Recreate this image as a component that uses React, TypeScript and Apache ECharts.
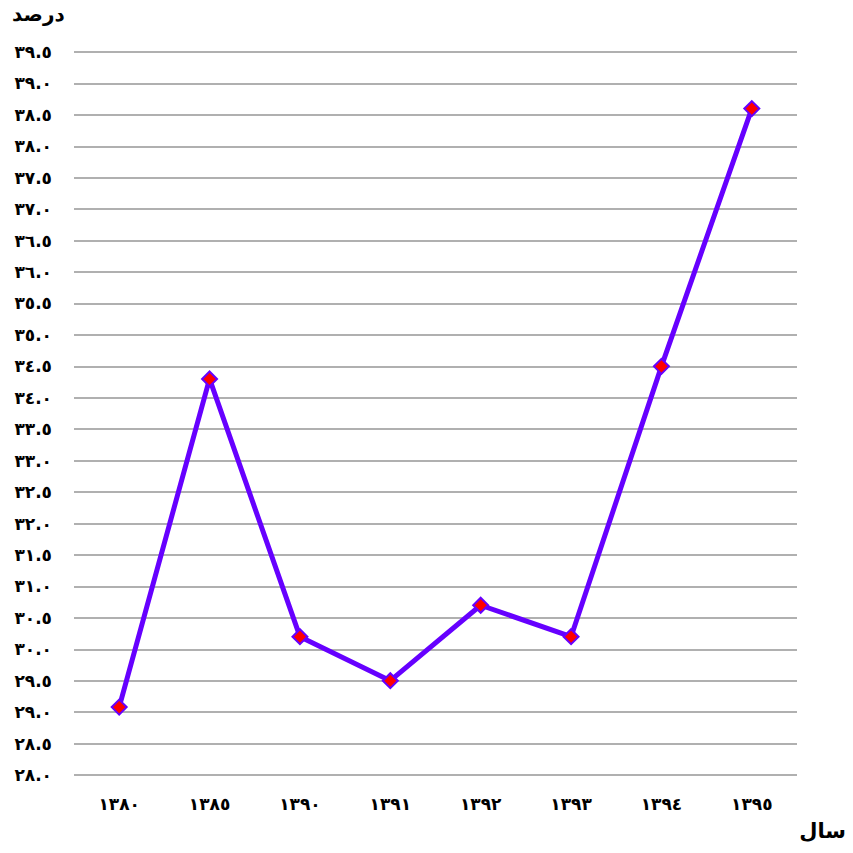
import React, { useEffect, useRef } from "react";
import * as echarts from "echarts";

const categories = ["1380", "1385", "1390", "1391", "1392", "1393", "1394", "1395"];
const values = [29.08, 34.3, 30.2, 29.5, 30.7, 30.2, 34.5, 38.6];
const yMin = 28.0;
const yMax = 39.5;
const yInterval = 0.5;
const yTitle = "درصد";
const xTitle = "سال";

const AR = ["٠", "١", "٢", "٣", "٤", "٥", "٦", "٧", "٨", "٩"];
const toArabic = (s: string) => s.replace(/[0-9]/g, (d) => AR[+d]);

export default function App() {
  const ref = useRef<HTMLDivElement>(null);
  useEffect(() => {
    const chart = echarts.init(ref.current!, null, { renderer: "svg" });
    const font = "'DejaVu Sans', sans-serif";
    chart.setOption({
      animation: false,
      backgroundColor: "#ffffff",
      grid: { left: 74, right: 56, top: 52, bottom: 78, containLabel: false },
      xAxis: {
        type: "category",
        data: categories,
        boundaryGap: true,
        axisLine: { show: false },
        axisTick: { show: false },
        axisLabel: {
          formatter: (v: string) => toArabic(v),
          fontFamily: font,
          fontWeight: "bold",
          fontSize: 17,
          color: "#000",
          margin: 20,
        },
      },
      yAxis: {
        type: "value",
        min: yMin,
        max: yMax,
        interval: yInterval,
        axisLine: { show: false },
        axisTick: { show: false },
        splitLine: { show: true, lineStyle: { color: "#969696", width: 1.5 } },
        axisLabel: {
          formatter: (v: number) => toArabic(v.toFixed(1)),
          fontFamily: font,
          fontWeight: "bold",
          fontSize: 17,
          color: "#000",
          margin: 22,
        },
      },
      graphic: [
        {
          type: "text",
          left: 12,
          top: 4,
          style: { text: yTitle, font: `bold 20px ${font}`, fill: "#000" },
        },
        {
          type: "text",
          right: 7,
          top: 820,
          style: { text: xTitle, font: `bold 21px ${font}`, fill: "#000" },
        },
      ],
      series: [
        {
          type: "line",
          data: values,
          symbol: "diamond",
          symbolSize: 15,
          lineStyle: { color: "#6600ff", width: 5 },
          itemStyle: { color: "#ff0000", borderColor: "#6600ff", borderWidth: 2 },
        },
      ],
    });
    return () => chart.dispose();
  }, []);
  return (
    <div
      ref={ref}
      style={{ position: "fixed", left: 0, top: 0, width: 853, height: 853 }}
    />
  );
}
